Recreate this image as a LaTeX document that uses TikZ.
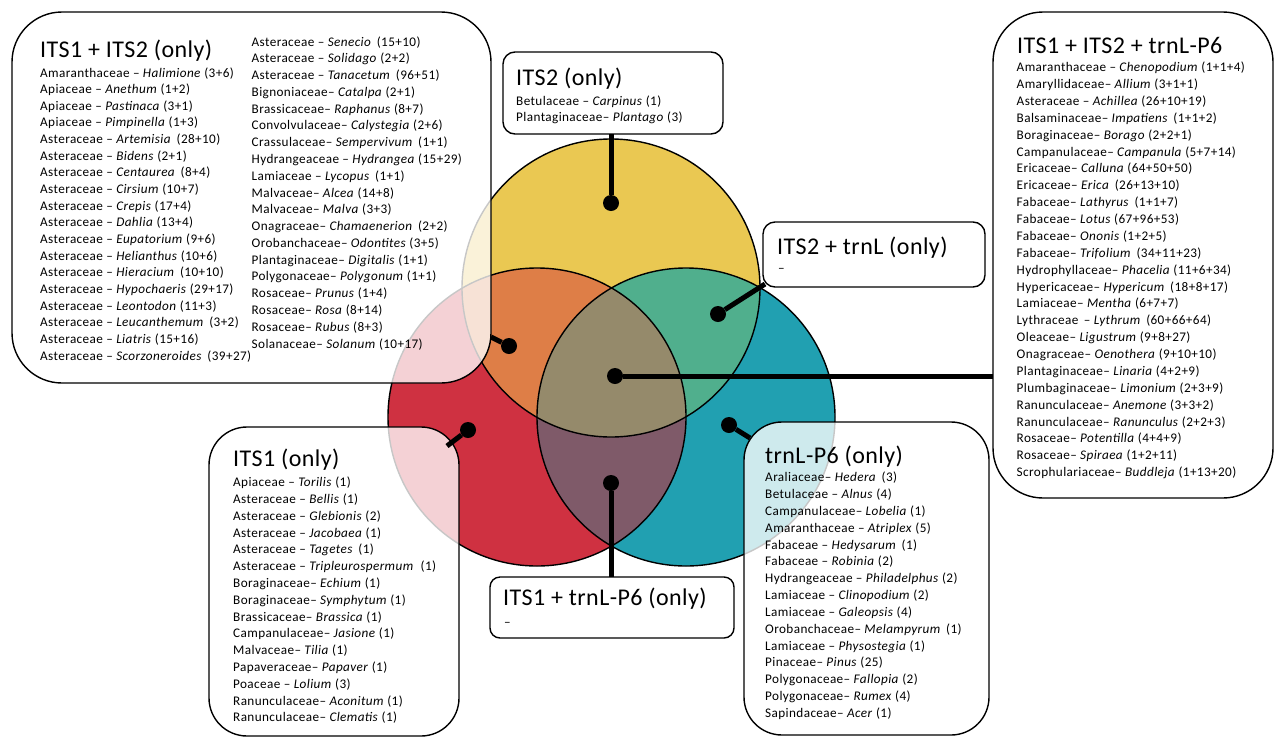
\documentclass[tikz,border=0pt]{standalone}
\usepackage{fontspec}
\setmainfont{Carlito}[LetterSpace=3]
\newfontfamily\ttlfont{Carlito}[LetterSpace=1.8]
\definecolor{cY}{HTML}{EAC852}
\definecolor{cR}{HTML}{CF3141}
\definecolor{cB}{HTML}{21A0B1}
\definecolor{cO}{HTML}{DE7E47}
\definecolor{cG}{HTML}{50AF8D}
\definecolor{cP}{HTML}{7F5A69}
\definecolor{cC}{HTML}{958A6B}
\newcommand\lst[1]{\begin{tabular}[t]{@{}l@{}}#1\end{tabular}}
\begin{document}
\begin{tikzpicture}[x=1pt,y=-1pt,
  box/.style={draw=black, line width=1.4pt, fill=white, fill opacity=0.78, text opacity=1,
              anchor=north west, inner sep=0pt, outer sep=0pt},
  ttl/.style={anchor=base west, inner sep=0pt, font=\ttlfont\fontsize{24}{28}\selectfont},
  lst/.style={anchor=base west, inner sep=0pt, font=\fontsize{13.2}{#1}\selectfont},
  lst/.default=16.8,
  dot/.style={circle, fill=black, inner sep=0pt, minimum size=16pt},
  conn/.style={line width=5pt}
]
\useasboundingbox (0,0) rectangle (1276,737);
\fill[white] (0,0) rectangle (1276,737);
% circles
\fill[cY] (611,288) circle[radius=149];
\fill[cR] (537,417) circle[radius=149];
\fill[cB] (686,417) circle[radius=149];
\begin{scope}
  \clip (537,417) circle[radius=149];
  \fill[cP] (686,417) circle[radius=149];
\end{scope}
\begin{scope}
  \clip (611,288) circle[radius=149];
  \fill[cO] (537,417) circle[radius=149];
  \fill[cG] (686,417) circle[radius=149];
  \clip (537,417) circle[radius=149];
  \fill[cC] (686,417) circle[radius=149];
\end{scope}
\draw[line width=1.4pt] (611,288) circle[radius=149];
\draw[line width=1.4pt] (537,417) circle[radius=149];
\draw[line width=1.4pt] (686,417) circle[radius=149];
% dots
\node[dot] (dY) at (611,203) {};
\node[dot] (dO) at (509,346) {};
\node[dot] (dG) at (718,314) {};
\node[dot] (dC) at (615,376) {};
\node[dot] (dR) at (468,430) {};
\node[dot] (dB) at (729,425) {};
\node[dot] (dP) at (611,483) {};
% boxes
\node[box, rounded corners=50pt, minimum width=479pt, minimum height=371pt] (bTL) at (12,12) {};
\node[box, rounded corners=12pt, minimum width=220pt, minimum height=82pt] (bY) at (503,52) {};
\node[box, rounded corners=12pt, minimum width=222pt, minimum height=65pt] (bG) at (763,222) {};
\node[box, rounded corners=50pt, minimum width=280pt, minimum height=486pt] (bC) at (993,12) {};
\node[box, rounded corners=38pt, minimum width=250pt, minimum height=309pt] (bR) at (209,427) {};
\node[box, rounded corners=38pt, minimum width=245pt, minimum height=313pt] (bB) at (744,422) {};
\node[box, rounded corners=10pt, minimum width=244pt, minimum height=61pt] (bP) at (490,577) {};
% connector ends
\coordinate (eO) at (491,337);
\coordinate (eG) at (765,284);
\coordinate (eR) at (447,446);
\coordinate (eB) at (750,438);
% connectors
\draw[conn] (dY) -- (dY |- bY.south);
\draw[conn] (dO) -- (eO);
\draw[conn] (dG) -- (eG);
\draw[conn] (dC) -- (dC -| bC.west);
\draw[conn] (dR) -- (eR);
\draw[conn] (dB) -- (eB);
\draw[conn] (dP) -- (dP |- bP.north);
% texts
\node[ttl] (tTL) at (40,57) {ITS1 + ITS2 (only)};
\node[lst=16.65] (lTL1) at (40,77) {\lst{%
Amaranthaceae – \textit{Halimione} (3+6)\\
Apiaceae – \textit{Anethum} (1+2)\\
Apiaceae – \textit{Pastinaca} (3+1)\\
Apiaceae – \textit{Pimpinella} (1+3)\\
Asteraceae – \textit{Artemisia} \,(28+10)\\
Asteraceae – \textit{Bidens} (2+1)\\
Asteraceae – \textit{Centaurea} \,(8+4)\\
Asteraceae – \textit{Cirsium} (10+7)\\
Asteraceae – \textit{Crepis} (17+4)\\
Asteraceae – \textit{Dahlia} (13+4)\\
Asteraceae – \textit{Eupatorium} (9+6)\\
Asteraceae – \textit{Helianthus} (10+6)\\
Asteraceae – \textit{Hieracium} \,(10+10)\\
Asteraceae – \textit{Hypochaeris} (29+17)\\
Asteraceae – \textit{Leontodon} (11+3)\\
Asteraceae – \textit{Leucanthemum} \,(3+2)\\
Asteraceae – \textit{Liatris} (15+16)\\
Asteraceae – \textit{Scorzoneroides} \,(39+27)}};
\node[lst=16.78] (lTL2) at (251.5,46) {\lst{%
Asteraceae – \textit{Senecio} \,(15+10)\\
Asteraceae – \textit{Solidago} (2+2)\\
Asteraceae – \textit{Tanacetum} \,(96+51)\\
Bignoniaceae– \textit{Catalpa} (2+1)\\
Brassicaceae– \textit{Raphanus} (8+7)\\
Convolvulaceae– \textit{Calystegia} (2+6)\\
Crassulaceae– \textit{Sempervivum} \,(1+1)\\
Hydrangeaceae – \textit{Hydrangea} (15+29)\\
Lamiaceae – \textit{Lycopus} \,(1+1)\\
Malvaceae– \textit{Alcea} (14+8)\\
Malvaceae– \textit{Malva} (3+3)\\
Onagraceae– \textit{Chamaenerion} \,(2+2)\\
Orobanchaceae– \textit{Odontites} (3+5)\\
Plantaginaceae– \textit{Digitalis} (1+1)\\
Polygonaceae– \textit{Polygonum} (1+1)\\
Rosaceae– \textit{Prunus} (1+4)\\
Rosaceae– \textit{Rosa} (8+14)\\
Rosaceae– \textit{Rubus} (8+3)\\
Solanaceae– \textit{Solanum} (10+17)}};
\node[ttl] (tY) at (516,85) {ITS2 (only)};
\node[lst=16.5] (lY) at (516,105) {\lst{%
Betulaceae – \textit{Carpinus} (1)\\
Plantaginaceae– \textit{Plantago} (3)}};
\node[ttl] (tG) at (777,254) {ITS2 + trnL (only)};
\node[lst] (lG) at (778,272) {–};
\node[ttl] (tC) at (1017,53) {ITS1 + ITS2 + trnL-P6};
\node[lst=16.875] (lC) at (1016.5,71.7) {\lst{%
Amaranthaceae – \textit{Chenopodium} (1+1+4)\\
Amaryllidaceae– \textit{Allium} (3+1+1)\\
Asteraceae – \textit{Achillea} (26+10+19)\\
Balsaminaceae– \textit{Impatiens} \,(1+1+2)\\
Boraginaceae– \textit{Borago} (2+2+1)\\
Campanulaceae– \textit{Campanula} (5+7+14)\\
Ericaceae– \textit{Calluna} (64+50+50)\\
Ericaceae– \textit{Erica} \,(26+13+10)\\
Fabaceae– \textit{Lathyrus} \,(1+1+7)\\
Fabaceae– \textit{Lotus} (67+96+53)\\
Fabaceae– \textit{Ononis} (1+2+5)\\
Fabaceae– \textit{Trifolium} \,(34+11+23)\\
Hydrophyllaceae– \textit{Phacelia} (11+6+34)\\
Hypericaceae– \textit{Hypericum} \,(18+8+17)\\
Lamiaceae– \textit{Mentha} (6+7+7)\\
Lythraceae \,– \textit{Lythrum} \,(60+66+64)\\
Oleaceae– \textit{Ligustrum} (9+8+27)\\
Onagraceae– \textit{Oenothera} (9+10+10)\\
Plantaginaceae– \textit{Linaria} (4+2+9)\\
Plumbaginaceae– \textit{Limonium} (2+3+9)\\
Ranunculaceae– \textit{Anemone} (3+3+2)\\
Ranunculaceae– \textit{Ranunculus} (2+2+3)\\
Rosaceae– \textit{Potentilla} (4+4+9)\\
Rosaceae– \textit{Spiraea} (1+2+11)\\
Scrophulariaceae– \textit{Buddleja} (1+13+20)}};
\node[ttl] (tR) at (233,466.7) {ITS1 (only)};
\node[lst=16.8] (lR) at (233,486.7) {\lst{%
Apiaceae – \textit{Torilis} (1)\\
Asteraceae – \textit{Bellis} (1)\\
Asteraceae – \textit{Glebionis} (2)\\
Asteraceae – \textit{Jacobaea} (1)\\
Asteraceae – \textit{Tagetes} \,(1)\\
Asteraceae – \textit{Tripleurospermum} \;(1)\\
Boraginaceae– \textit{Echium} (1)\\
Boraginaceae– \textit{Symphytum} (1)\\
Brassicaceae– \textit{Brassica} (1)\\
Campanulaceae– \textit{Jasione} (1)\\
Malvaceae– \textit{Tilia} (1)\\
Papaveraceae– \textit{Papaver} (1)\\
Poaceae – \textit{Lolium} (3)\\
Ranunculaceae– \textit{Aconitum} (1)\\
Ranunculaceae– \textit{Clematis} (1)}};
\node[ttl] (tB) at (765,463.3) {trnL-P6 (only)};
\node[lst=16.83] (lB) at (765,481.7) {\lst{%
Araliaceae– \textit{Hedera} \,(3)\\
Betulaceae – \textit{Alnus} (4)\\
Campanulaceae– \textit{Lobelia} (1)\\
Amaranthaceae – \textit{Atriplex} (5)\\
Fabaceae – \textit{Hedysarum} \,(1)\\
Fabaceae – \textit{Robinia} (2)\\
Hydrangeaceae – \textit{Philadelphus} (2)\\
Lamiaceae – \textit{Clinopodium} (2)\\
Lamiaceae – \textit{Galeopsis} (4)\\
Orobanchaceae– \textit{Melampyrum} \,(1)\\
Lamiaceae – \textit{Physostegia} (1)\\
Pinaceae– \textit{Pinus} (25)\\
Polygonaceae– \textit{Fallopia} (2)\\
Polygonaceae– \textit{Rumex} (4)\\
Sapindaceae– \textit{Acer} (1)}};
\node[ttl] (tP) at (503,605.5) {ITS1 + trnL-P6 (only)};
\node[lst] (lP) at (504,626) {–};
\end{tikzpicture}
\end{document}
